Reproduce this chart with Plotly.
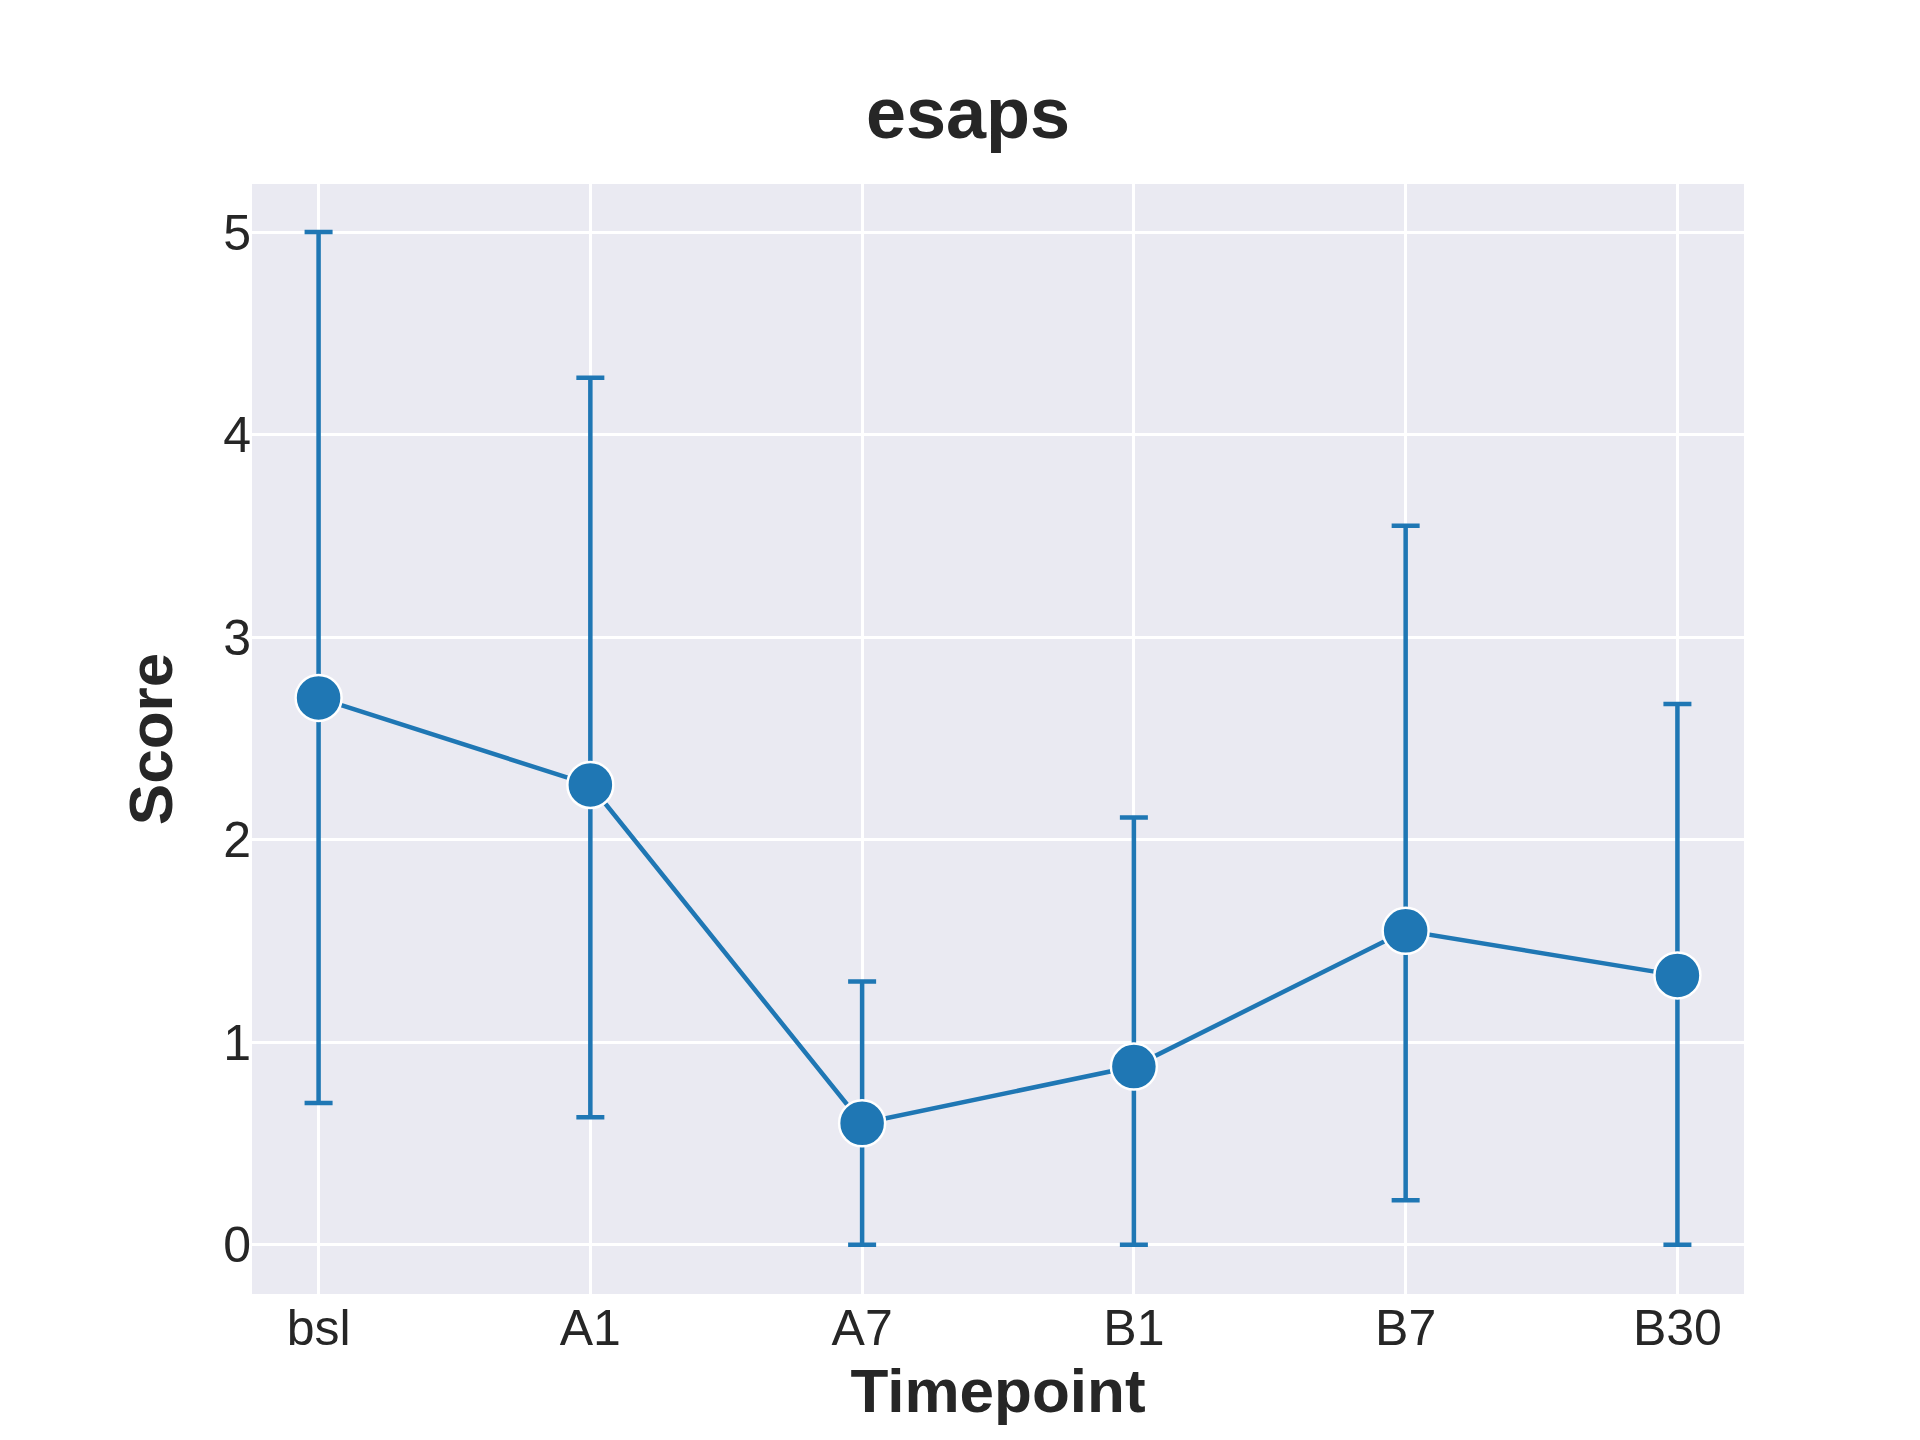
import plotly.graph_objects as go

# data
timepoints = ['bsl', 'A1', 'A7', 'B1', 'B7', 'B30']
mean_score = [2.70, 2.27, 0.60, 0.88, 1.55, 1.33]
upper = [5.00, 4.28, 1.30, 2.11, 3.55, 2.67]
lower = [0.70, 0.63, 0.00, 0.00, 0.22, 0.00]

err_plus = [u - m for u, m in zip(upper, mean_score)]
err_minus = [m - l for m, l in zip(mean_score, lower)]

blue = '#1f77b4'
fig = go.Figure()
fig.add_trace(go.Scatter(
    x=list(range(len(timepoints))), y=mean_score,
    mode='lines+markers',
    line=dict(color=blue, width=4.5),
    marker=dict(size=46, color=blue, line=dict(color='white', width=2.5)),
    error_y=dict(type='data', symmetric=False, array=err_plus, arrayminus=err_minus,
                 color=blue, thickness=4.5, width=14),
))

fig.update_layout(
    width=1920, height=1440,
    paper_bgcolor='white', plot_bgcolor='#eaeaf2',
    font=dict(family='Arial, Liberation Sans', color='#262626', size=50),
    title=dict(text='<b>esaps</b>', x=0.5, xanchor='center', y=0.945, font=dict(size=72)),
    margin=dict(l=244, r=184, t=176, b=154),
    showlegend=False,
)
fig.update_xaxes(
    tickvals=list(range(len(timepoints))), ticktext=timepoints,
    range=[-0.245, 5.245], showgrid=True, gridcolor='white', gridwidth=2.5,
    zeroline=False, ticks='', ticklen=0,
    title=dict(text='<b>Timepoint</b>', font=dict(size=62), standoff=8),
)
fig.update_yaxes(
    range=[-0.243, 5.237], dtick=1, showgrid=True, gridcolor='white', gridwidth=2.5,
    zeroline=False, ticks='',
    title=dict(text='<b>Score</b>', font=dict(size=62), standoff=30),
)

fig.write_html("out.html")
